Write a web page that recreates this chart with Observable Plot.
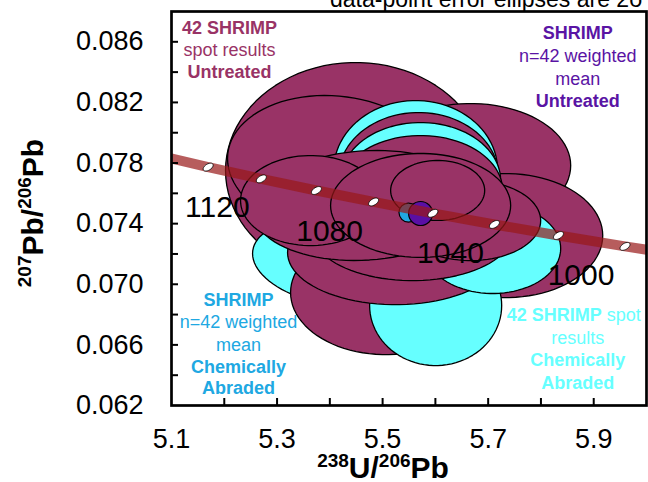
<!DOCTYPE html>
<html><head><meta charset="utf-8">
<script src="https://cdn.jsdelivr.net/npm/d3@7"></script>
<script src="https://cdn.jsdelivr.net/npm/@observablehq/plot@0.6"></script>
<style>
html,body{margin:0;padding:0;background:#fff;overflow:hidden;}
#chart{position:relative;width:648px;height:482px;}
svg{font-family:"Liberation Sans",Arial,sans-serif;}
</style></head><body><div id="chart"></div>
<script>
// ---- error ellipses (group, centre x, centre y, half-width x, half-height y, correlation), back to front
const ellGroup = ["U","U","U","U", "CA","U","CA","U", "CA","U","CA", "U","CA","U","U","U","U","U","U"];
const ellX   = [5.4488,5.6668,5.4109,5.7332, 5.5626,5.5682,5.5720,5.5720, 5.4204,5.5057,5.6005, 5.5246,5.7085,5.5569,5.4678,5.3635,5.6668,5.5720,5.6043];
const ellY   = [0.077505,0.077835,0.077835,0.073214, 0.077505,0.077109,0.076845,0.076185, 0.071432,0.069452,0.068594, 0.07209,0.07236,0.07341,0.0752,0.075525,0.074205,0.0752,0.07619];
const ellSX  = [0.24644,0.18957,0.20474,0.18388, 0.15545,0.15166,0.15166,0.15545, 0.16682,0.18009,0.12512, 0.2047,0.1289,0.1896,0.2123,0.1327,0.1327,0.1706,0.0891];
const ellSY  = [0.0071288,0.0040924,0.0046205,0.0040924, 0.0046205,0.0042244,0.0038284,0.0036304, 0.0029703,0.0040924,0.0039604, 0.003432,0.00297,0.003168,0.00363,0.0029703,0.0026403,0.003432,0.00198];
const ellRho = [0,0,-0.1,0, 0,0,0,0, -0.2,0,0, 0,0,0,0.1,0,0,0,0];

// ---- weighted means (chemically abraded, untreated)
const meanX = [5.549, 5.572];
const meanY = [0.07473, 0.07467];

// ---- concordia (ages in Ma)
const concAge = [1160,1140,1120,1100,1080,1060,1040,1020,1000,980];
const concX = [5.0723,5.1695,5.2702,5.3746,5.4829,5.5953,5.7119,5.8332,5.9593,6.0907];
const concY = [0.078518,0.077731,0.076954,0.076187,0.075431,0.074684,0.073947,0.073218,0.072499,0.071791];
const markAges = [1140,1120,1100,1080,1060,1040,1020,1000];
const labelAges = [1120,1080,1040,1000];

// ---- ticks
const xMinor = [5.2,5.3,5.4,5.5,5.6,5.7,5.8,5.9];
const xLabels = [5.1,5.3,5.5,5.7,5.9];
const yMinor = [0.064,0.066,0.068,0.070,0.072,0.074,0.076,0.078,0.080,0.082,0.084,0.086];
const yLabels = [0.062,0.066,0.070,0.074,0.078,0.082,0.086];

// ---- annotations
const annText  = ["42 SHRIMP","spot results","Untreated",
                  "SHRIMP","n=42 weighted","mean","Untreated",
                  "SHRIMP","n=42 weighted","mean","Chemically","Abraded",
                  "results","Chemically","Abraded"];
const annX = [5.210,5.210,5.210, 5.8697,5.8697,5.8697,5.8697, 5.227,5.227,5.227,5.227,5.227, 5.8697,5.8697,5.8697];
const annY = [0.08688,0.08543,0.08397, 0.08655,0.08503,0.08351,0.08206, 0.06892,0.06747,0.06595,0.0645,0.06312, 0.06642,0.06496,0.06345];
const annBold = [1,0,1, 1,0,0,1, 1,0,0,1,1, 0,1,1];
const annColor = ["#993366","#993366","#993366","#5a14a4","#5a14a4","#5a14a4","#5a14a4",
                  "#20a8e2","#20a8e2","#20a8e2","#20a8e2","#20a8e2","#66ffff","#66ffff","#66ffff"];
const ann2Text = ["42 SHRIMP"," spot"];
const ann2X = [5.9152, 5.9152];
const ann2Y = [0.06793, 0.06793];

const fills = {U: "#993366", CA: "#66ffff"};
const ellipseMarks = ellX.map((cx, i) => {
  const r = ellRho[i], q = Math.sqrt(1 - r * r);
  const pts = d3.range(90).map(k => {
    const t = k / 90 * 2 * Math.PI;
    return {x: cx + ellSX[i] * Math.cos(t), y: ellY[i] + ellSY[i] * (r * Math.cos(t) + q * Math.sin(t))};
  });
  return Plot.line(pts, {x: "x", y: "y", fill: fills[ellGroup[i]], stroke: "black", strokeWidth: 1.3, curve: "linear-closed"});
});

const conc = concAge.map((a, i) => ({age: a, x: concX[i], y: concY[i]}));
const marks = conc.filter(d => markAges.includes(d.age));
const labs = conc.filter(d => labelAges.includes(d.age));

const tilted = {draw(ctx) {
  const rx = 5.6, ry = 3.1, a = -32 * Math.PI / 180;
  for (let k = 0; k < 24; k++) {
    const t = k / 24 * 2 * Math.PI, ex = rx * Math.cos(t), ey = ry * Math.sin(t);
    const px = ex * Math.cos(a) - ey * Math.sin(a), py = ex * Math.sin(a) + ey * Math.cos(a);
    k ? ctx.lineTo(px, py) : ctx.moveTo(px, py);
  }
  ctx.closePath();
}};

const ann = annText.map((t, i) => ({t, x: annX[i], y: annY[i], b: annBold[i], c: annColor[i]}));
const annMarks = ann.map(d => Plot.text([d], {x: "x", y: "y", text: "t", fill: d.c, fontSize: 18, fontWeight: d.b ? "bold" : "normal"}));

const chart = Plot.plot({
  width: 648, height: 482,
  marginLeft: 171, marginRight: 2, marginTop: 11, marginBottom: 77,
  x: {domain: [5.1, 6.0]},
  y: {domain: [0.062, 0.088]},
  style: {fontFamily: "'Liberation Sans', Arial, sans-serif", color: "black", background: "white"},
  marks: [
    ...ellipseMarks,
    Plot.dot([0], {x: () => meanX[0], y: () => meanY[0], r: 9.5, fill: "#20a8e2", stroke: "black", strokeWidth: 1.2}),
    Plot.dot([1], {x: () => meanX[1], y: () => meanY[1], r: 12, fill: "#5a0fa5", stroke: "black", strokeWidth: 1.2}),
    Plot.line(conc, {x: "x", y: "y", stroke: "#981818", strokeOpacity: 0.7, strokeWidth: 10, curve: "natural", clip: true, strokeLinecap: "butt"}),
    Plot.dot(marks, {x: "x", y: "y", symbol: tilted, r: 5, fill: "white", stroke: "black", strokeWidth: 0.8}),
    Plot.text(labs, {x: "x", y: "y", text: d => String(d.age), dx: -44, dy: 29, fontSize: 30, fill: "black"}),
    ...annMarks,
    Plot.text([ann2Text[0]], {x: () => ann2X[0], y: () => ann2Y[0], text: d => d, textAnchor: "end", fill: "#66ffff", fontSize: 18, fontWeight: "bold"}),
    Plot.text([ann2Text[1]], {x: () => ann2X[1], y: () => ann2Y[1], text: d => d, textAnchor: "start", fill: "#66ffff", fontSize: 18}),
    Plot.tickX(xMinor, {x: d => d, stroke: "black", strokeWidth: 2, insetTop: 387}),
    Plot.tickY(yMinor, {y: d => d, stroke: "black", strokeWidth: 2, insetRight: 468}),
    Plot.axisX({ticks: xLabels, tickSize: 0, tickPadding: 23, fontSize: 27, label: null, tickFormat: d3.format(".1f")}),
    Plot.axisY({ticks: yLabels, tickSize: 0, tickPadding: 28, fontSize: 27, label: null, tickFormat: d3.format(".3f")}),
    Plot.frame({stroke: "black", strokeWidth: 2.7})
  ]
});
document.getElementById("chart").appendChild(chart);

const svg = d3.select(chart);
// top caption (partly outside the picture)
svg.append("text").attr("x", 330).attr("y", 7).attr("text-anchor", "start").attr("font-size", 23).attr("fill", "black")
  .text("data-point error ellipses are 2σ");
// axis titles
const xt = svg.append("text").attr("x", 383).attr("y", 478).attr("text-anchor", "middle")
  .attr("font-size", 30).attr("font-weight", "bold").attr("fill", "black");
xt.append("tspan").attr("font-size", 19).attr("dy", -11).text("238");
xt.append("tspan").attr("dy", 11).text("U/");
xt.append("tspan").attr("font-size", 19).attr("dy", -11).text("206");
xt.append("tspan").attr("dy", 11).text("Pb");
const yt = svg.append("text").attr("transform", "translate(43,213) rotate(-90)").attr("text-anchor", "middle")
  .attr("font-size", 30).attr("font-weight", "bold").attr("fill", "black");
yt.append("tspan").attr("font-size", 19).attr("dy", -12).text("207");
yt.append("tspan").attr("dy", 12).text("Pb/");
yt.append("tspan").attr("font-size", 19).attr("dy", -12).text("206");
yt.append("tspan").attr("dy", 12).text("Pb");
</script></body></html>
